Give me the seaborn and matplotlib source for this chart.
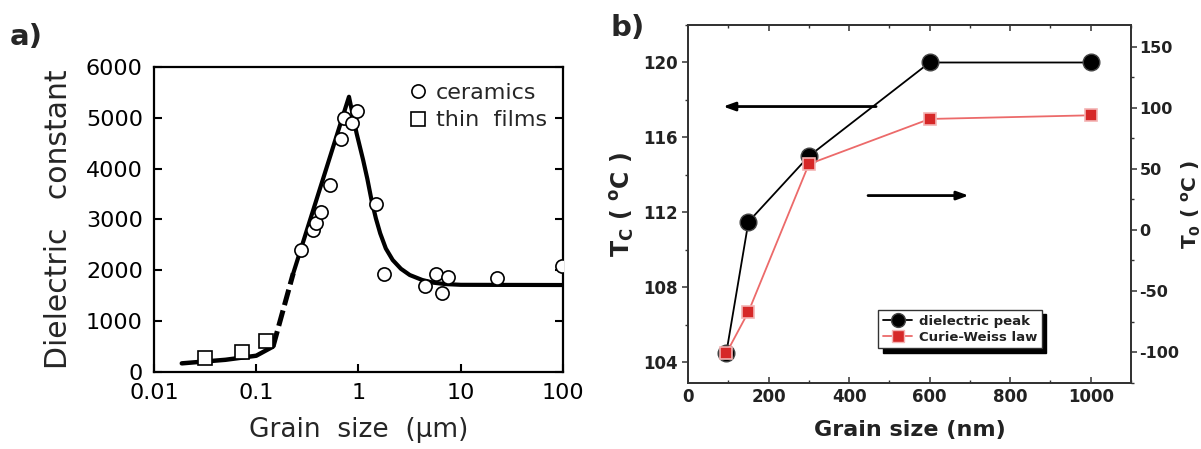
import numpy as np
import pandas as pd
import matplotlib
matplotlib.use('Agg')
import matplotlib.pyplot as plt
import seaborn as sns
from matplotlib.lines import Line2D
from matplotlib.ticker import MultipleLocator, FixedLocator, NullLocator, FixedFormatter

# ---------------- Panel a data ----------------
ceramics_size = [0.272, 0.361, 0.381, 0.427, 0.526, 0.675, 0.721, 0.857, 0.973,
                 1.48, 1.79, 4.5, 5.69, 6.56, 7.57, 22.5, 98.4]
ceramics_eps = [2400, 2790, 2940, 3150, 3670, 4580, 4990, 4900, 5140,
                3300, 1930, 1690, 1930, 1550, 1860, 1855, 2090]
films_size = [0.0316, 0.072, 0.124]
films_eps = [270, 400, 610]
film_fit_size = [0.0187, 0.05, 0.1, 0.146]
film_fit_eps = [170, 240, 320, 500]
gap_fit_size = [0.146, 0.23]
gap_fit_eps = [500, 1940]
ceram_fit_size = [0.23, 0.807, 0.958, 1.11, 1.22, 1.34, 1.48, 1.63, 1.85, 2.16, 2.6,
                  3.17, 4.2, 5.4, 7.0, 10, 100]
ceram_fit_eps = [1940, 5415, 4695, 4170, 3800, 3383, 3020, 2728, 2430, 2203, 2030,
                 1908, 1810, 1757, 1730, 1715, 1711]
a_xticks = [0.01, 0.1, 1, 10, 100]
a_xticklabels = ['0.01', '0.1', '1', '10', '100']
a_yticks = [0, 1000, 2000, 3000, 4000, 5000, 6000]

# ---------------- Panel b data ----------------
grain_nm = [95, 150, 300, 600, 1000]
tc_peak = [104.5, 111.5, 115.0, 120.0, 120.0]
t0_cw = [-101, -67, 54, 91, 94]
b_xticks = [0, 200, 400, 600, 800, 1000]
b_lyticks = [104, 108, 112, 116, 120]
b_ryticks = [-100, -50, 0, 50, 100, 150]

sns.set_style('ticks')
plt.rcParams['font.family'] = ['DejaVu Sans']
plt.rcParams['mathtext.default'] = 'bf'
plt.rcParams['axes.unicode_minus'] = False

fig = plt.figure(figsize=(12.01, 4.49), dpi=100)

# ================= Panel a =================
axa = fig.add_axes([0.1282, 0.1715, 0.3406, 0.6793])
sns.lineplot(x=film_fit_size, y=film_fit_eps, ax=axa, color='black', lw=3.2,
             estimator=None, sort=False)
sns.lineplot(x=gap_fit_size, y=gap_fit_eps, ax=axa, color='black', lw=3.6,
             estimator=None, sort=False, linestyle=(0, (3.2, 1.1)))
sns.lineplot(x=ceram_fit_size, y=ceram_fit_eps, ax=axa, color='black', lw=3.0,
             estimator=None, sort=False)
axa.plot(ceramics_size, ceramics_eps, ls='none', marker='o', ms=9.5, mfc='white',
         mec='black', mew=1.2, zorder=5)
axa.plot(films_size, films_eps, ls='none', marker='s', ms=10.5, mfc='white',
         mec='black', mew=1.2, zorder=5)
axa.set_xscale('log')
axa.set_xlim(0.01, 100)
axa.set_ylim(0, 6000)
axa.xaxis.set_major_locator(FixedLocator(a_xticks))
axa.xaxis.set_major_formatter(FixedFormatter(a_xticklabels))
axa.xaxis.set_minor_locator(NullLocator())
axa.yaxis.set_major_locator(FixedLocator(a_yticks))
for s in axa.spines.values():
    s.set_linewidth(1.6)
    s.set_color('black')
axa.tick_params(axis='both', which='major', direction='in', length=6, width=1.5,
                labelsize=16, colors='black', right=True, top=False)
axa.tick_params(axis='x', pad=8)
axa.tick_params(axis='y', pad=8)
axa.set_xlabel('Grain  size  (\u03bcm)', fontsize=19, labelpad=10)
axa.set_ylabel('Dielectric   constant', fontsize=21.5, labelpad=9)
leg_a = [Line2D([], [], ls='none', marker='o', ms=9.5, mfc='white', mec='black', mew=1.2),
         Line2D([], [], ls='none', marker='s', ms=10.5, mfc='white', mec='black', mew=1.2)]
axa.legend(leg_a, ['ceramics', 'thin  films'], frameon=False, fontsize=16,
           loc='upper left', bbox_to_anchor=(0.58, 1.0), handletextpad=0.3,
           labelspacing=0.35, handlelength=1.0, borderaxespad=0.3)
fig.text(0.008, 0.918, 'a)', fontsize=21, fontweight='bold', va='center')

# ================= Panel b =================
axb = fig.add_axes([0.5729, 0.147, 0.3688, 0.7973])
sns.lineplot(x=grain_nm, y=tc_peak, ax=axb, color='black', lw=1.3,
             marker='o', markersize=12, markerfacecolor='black',
             markeredgecolor='#444444', markeredgewidth=1.0, estimator=None, sort=False)
axb.set_xlim(0, 1100)
axb.set_ylim(102.9, 122.0)
axb2 = axb.twinx()
sns.lineplot(x=grain_nm, y=t0_cw, ax=axb2, color='#ec6a6a', lw=1.3,
             marker='s', markersize=8.5, markerfacecolor='#d62828',
             markeredgecolor='#f4b4b4', markeredgewidth=1.2, estimator=None, sort=False)
axb2.set_ylim(-125.4, 168)

axb.xaxis.set_major_locator(FixedLocator(b_xticks))
axb.xaxis.set_minor_locator(MultipleLocator(100))
axb.yaxis.set_major_locator(FixedLocator(b_lyticks))
axb.yaxis.set_minor_locator(MultipleLocator(2))
axb2.yaxis.set_major_locator(FixedLocator(b_ryticks))
axb2.yaxis.set_minor_locator(MultipleLocator(25))
for ax in (axb, axb2):
    for s in ax.spines.values():
        s.set_linewidth(1.3)
        s.set_color('#333333')
axb.tick_params(axis='both', which='major', direction='out', length=4, width=1.1,
                labelsize=12, colors='#333333', labelcolor='#222222', top=True)
axb.tick_params(axis='both', which='minor', direction='out', length=2.5, width=1.0,
                colors='#333333', top=True)
axb.tick_params(axis='x', which='both', top=True, direction='in')
axb2.tick_params(axis='y', which='major', direction='out', length=4, width=1.1,
                 labelsize=11.5, colors='#333333', labelcolor='#222222', pad=2)
axb2.tick_params(axis='y', which='minor', direction='out', length=2.5, width=1.0,
                 colors='#333333')
for lab in axb.get_xticklabels() + axb.get_yticklabels() + axb2.get_yticklabels():
    lab.set_fontweight('bold')
axb.set_xlabel('Grain size (nm)', fontsize=16, fontweight='bold', color='#222222', labelpad=10)
axb.set_ylabel('T$_C$ ( $^o$C )', fontsize=17, fontweight='bold', color='#222222', labelpad=4)
axb2.set_ylabel('T$_0$ ( $^o$C )', fontsize=14.5, fontweight='bold', color='#222222', labelpad=0)

axb.annotate('', xy=(87, 117.65), xytext=(467, 117.65),
             arrowprops=dict(arrowstyle='-|>,head_length=0.7,head_width=0.25',
                             color='black', lw=2.0, shrinkA=0, shrinkB=0))
axb.annotate('', xy=(697, 112.9), xytext=(447, 112.9),
             arrowprops=dict(arrowstyle='-|>,head_length=0.7,head_width=0.25',
                             color='black', lw=2.0, shrinkA=0, shrinkB=0))

leg_b = [Line2D([], [], color='black', lw=1.3, marker='o', ms=10, mfc='black', mec='#444444'),
         Line2D([], [], color='#ec6a6a', lw=1.3, marker='s', ms=8, mfc='#d62828', mec='#f4b4b4')]
lg = axb2.legend(leg_b, ['dielectric peak', 'Curie-Weiss law'], loc='lower left',
                 bbox_to_anchor=(0.415, 0.078), fontsize=9.5, frameon=True, fancybox=False,
                 edgecolor='#333333', framealpha=1,
                 shadow={'ox': 3, 'oy': -3, 'color': 'black', 'alpha': 1},
                 handlelength=2.2, handletextpad=0.5, labelspacing=0.25, borderpad=0.35)
lg.get_frame().set_linewidth(1.0)
for t in lg.get_texts():
    t.set_fontweight('bold')
    t.set_color('#222222')
fig.text(0.508, 0.938, 'b)', fontsize=21, fontweight='bold', va='center')

fig.savefig('out.png', dpi=100)
